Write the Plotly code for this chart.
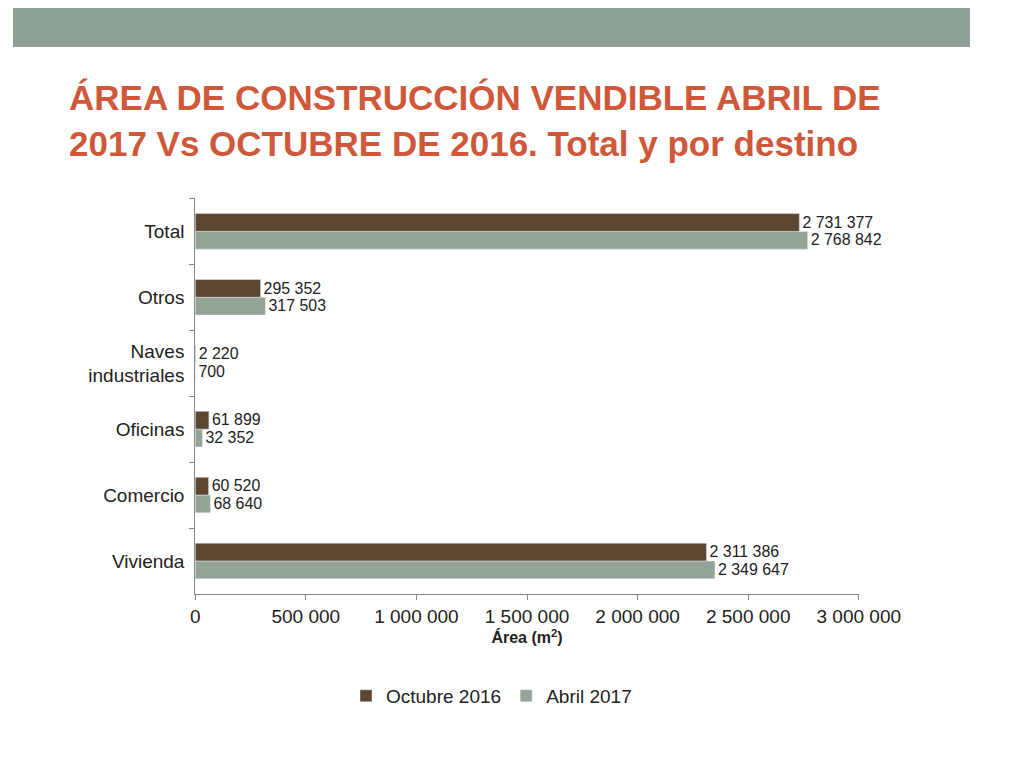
import plotly.graph_objects as go

categories = ["Vivienda", "Comercio", "Oficinas", "Naves<br>industriales", "Otros", "Total"]
octubre_2016 = [2311386, 60520, 61899, 2220, 295352, 2731377]
abril_2017 = [2349647, 68640, 32352, 700, 317503, 2768842]
tick_vals = [0, 500000, 1000000, 1500000, 2000000, 2500000, 3000000]

def fmt(v):
    return f"{v:,}".replace(",", " ")

W, H = 1004, 750

fig = go.Figure()
fig.add_trace(go.Bar(y=categories, x=abril_2017, orientation="h", name="Abril 2017",
                     marker=dict(color="#93a497"), text=[fmt(v) for v in abril_2017],
                     textposition="outside", cliponaxis=False, textfont=dict(size=17, color="#222")))
fig.add_trace(go.Bar(y=categories, x=octubre_2016, orientation="h", name="Octubre 2016",
                     marker=dict(color="#5c4630"), text=[fmt(v) for v in octubre_2016],
                     textposition="outside", cliponaxis=False, textfont=dict(size=17, color="#222")))

fig.add_shape(type="rect", xref="paper", yref="paper", x0=0, x1=1, y0=1 - 40/768, y1=1,
              fillcolor="#8fa095", line=dict(width=0), layer="below")
fig.add_annotation(xref="paper", yref="paper", x=58/1024, y=1 - 70/768, xanchor="left", yanchor="top",
                   align="left", showarrow=False,
                   text="<b>ÁREA DE CONSTRUCCIÓN VENDIBLE ABRIL DE<br>2017 Vs OCTUBRE DE 2016. Total y por destino</b>",
                   font=dict(family="Liberation Sans Narrow, Arial Narrow, Liberation Sans", size=35, color="#d0583a"))

fig.update_layout(
    width=W, height=H, margin=dict(l=0, r=0, t=0, b=0),
    paper_bgcolor="white", plot_bgcolor="white",
    font=dict(family="Liberation Sans, Arial", size=19, color="#222"),
    barmode="group", bargap=0.46, bargroupgap=0,
    xaxis=dict(domain=[195/1024, 905/1024], range=[0, 3000000], tickvals=tick_vals,
               ticktext=[fmt(v) for v in tick_vals], showgrid=False, showline=True,
               linecolor="#888", ticks="outside", tickcolor="#888", ticklen=5,
               title=dict(text="<b>Área (m<sup>2</sup>)</b>", font=dict(size=16), standoff=6)),
    yaxis=dict(domain=[1 - 600/768, 1 - 195/768], showline=True, linecolor="#888",
               ticks="outside", tickson="boundaries", tickcolor="#888", ticklen=5,
               ticklabelstandoff=6),
    legend=dict(orientation="h", x=0.5, xanchor="center", y=1 - 685/768, yanchor="top",
                traceorder="reversed", font=dict(size=19)),
    showlegend=True,
)
fig.write_html("out.html")
